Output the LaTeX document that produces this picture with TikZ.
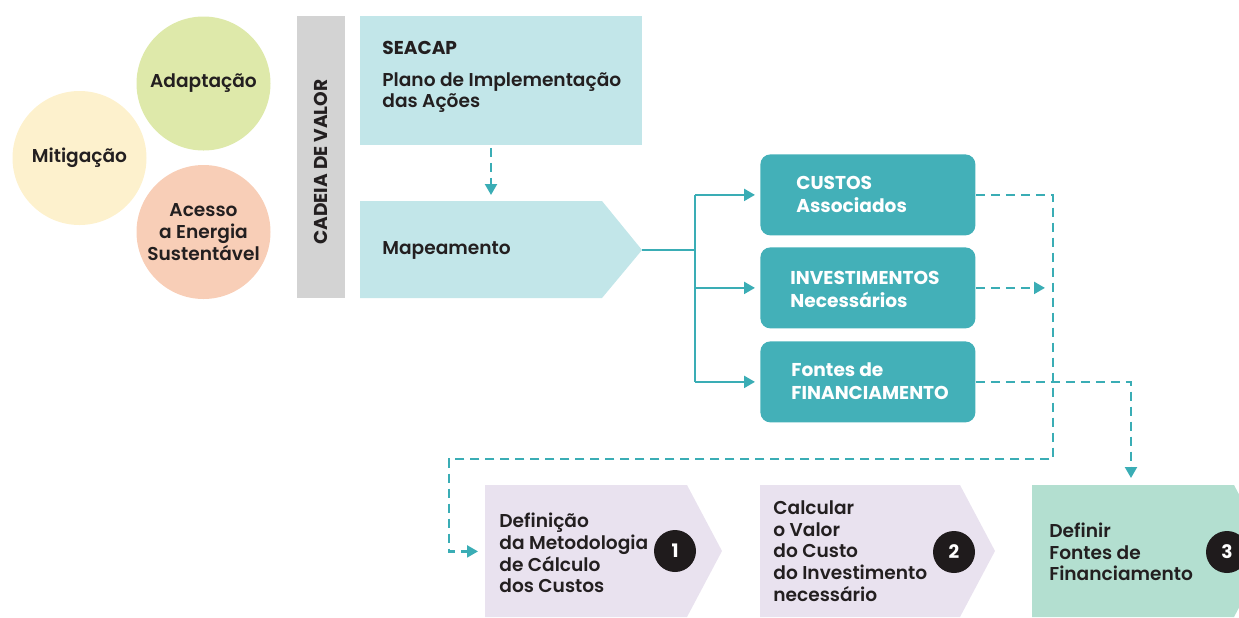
\documentclass[tikz,border=0pt]{standalone}
\usepackage{fontspec}
\setmainfont{Poppins}[UprightFont={* Medium},BoldFont={* SemiBold}]
\newfontfamily\heavy{Poppins}[UprightFont={* SemiBold},BoldFont={* Bold}]
\usetikzlibrary{arrows.meta}
\definecolor{tealD}{HTML}{43B0B8}
\definecolor{tealL}{HTML}{C2E6E9}
\definecolor{tealA}{HTML}{3AADB5}
\definecolor{grayB}{HTML}{D3D3D3}
\definecolor{cGreen}{HTML}{DEE9AA}
\definecolor{cYellow}{HTML}{FDF1CD}
\definecolor{cSalmon}{HTML}{F8CEB7}
\definecolor{lav}{HTML}{E9E2EF}
\definecolor{mint}{HTML}{B3DFD0}
\definecolor{ink}{HTML}{231F20}
\definecolor{numc}{HTML}{1F1B1C}
\tikzset{
  txt/.style={font=\fontsize{9.3}{10.8}\selectfont\heavy, text=ink, align=left, inner sep=0pt, anchor=west},
  wtxt/.style={font=\fontsize{9.3}{11.5}\selectfont\heavy\bfseries, text=white, align=left, inner sep=0pt, anchor=west},
  circ/.style={circle, minimum size=67pt, inner sep=0pt, align=center, text=ink, font=\fontsize{9.3}{10.8}\selectfont\heavy},
  tbox/.style={fill=tealD, rounded corners=5pt, minimum width=107.5pt, minimum height=40.5pt, anchor=north west, inner sep=0pt},
  anch/.style={inner sep=0pt, anchor=north west},
  tline/.style={draw=tealA, line width=1.1pt},
  dline/.style={tline, dash pattern=on 4.5pt off 3pt},
  arr/.style={-{Triangle[length=5.5pt,width=6pt]}},
  num/.style={circle, fill=numc, minimum size=21pt, inner sep=0pt, text=white, font=\fontsize{9.3}{10}\selectfont\heavy\bfseries}
}
\begin{document}
\begin{tikzpicture}[x=0.5pt,y=-0.5pt]
\useasboundingbox (0,0) rectangle (1239,617);
% circles
\node[circ, fill=cYellow] (mit) at (79.5,158) {Mitigação};
\node[circ, fill=cGreen] (ada) at (203.5,83.5) {Adaptação};
\node[circ, fill=cSalmon] (ace) at (203.5,232) {Acesso\\a Energia\\Sustentável};
% value chain bar
\node[anch, fill=grayB, minimum width=24pt, minimum height=141pt] (bar) at (297,16) {};
\node[rotate=90, text=ink, inner sep=0pt, font=\fontsize{9.3}{10}\selectfont\heavy\bfseries] (barT) at (321,162) {CADEIA DE VALOR};
% SEACAP
\node[anch, fill=tealL, minimum width=141pt, minimum height=64.5pt] (seacap) at (360,16) {};
\node[txt] (seacapT) at (382,77) {\bfseries SEACAP\\[5pt]Plano de Implementação\\das Ações};
% Mapeamento
\fill[tealL] (360,201) -- (602,201) -- (642,250) -- (602,298) -- (360,298) -- cycle;
\node[anch, minimum width=121pt, minimum height=48.5pt] (map) at (360,201) {};
\node[txt] (mapT) at (382,250) {Mapeamento};
\coordinate (maptip) at (642,250);
\coordinate (ax) at (491,0);
\draw[dline, arr, shorten >=3pt, shorten <=1pt] (seacap.south -| ax) -- (map.north -| ax);
% teal boxes
\node[tbox] (custos) at (760,154) {};
\node[tbox] (invest) at (760,247) {};
\node[tbox] (fontes) at (760,341) {};
\node[wtxt] (custosT) at (796,194) {CUSTOS\\Associados};
\node[wtxt] (investT) at (790,289) {INVESTIMENTOS\\Necessários};
\node[wtxt] (fontesT) at (791,381) {Fontes de\\FINANCIAMENTO};
% solid connectors
\coordinate (jn) at (695,250);
\draw[tline] (maptip) -- (jn);
\draw[tline] (jn |- custos.west) -- (jn |- fontes.west);
\draw[tline, arr, shorten >=2.5pt] (jn |- custos.west) -- (custos.west);
\draw[tline, arr, shorten >=2.5pt] (jn |- invest.west) -- (invest.west);
\draw[tline, arr, shorten >=2.5pt] (jn |- fontes.west) -- (fontes.west);
% bottom chevrons
\fill[lav] (485,485) -- (687,485) -- (722,551) -- (687,617) -- (485,617) -- cycle;
\fill[lav] (760,485) -- (960,485) -- (995,551) -- (960,617) -- (760,617) -- cycle;
\fill[mint] (1032,485) -- (1234,485) -- (1269,551) -- (1234,617) -- (1032,617) -- cycle;
\node[anch, minimum width=101pt, minimum height=66pt] (b1) at (485,485) {};
\node[anch, minimum width=100pt, minimum height=66pt] (b2) at (760,485) {};
\node[anch, minimum width=101pt, minimum height=66pt] (b3) at (1032,485) {};
\node[txt] (b1T) at (499,553) {Definição\\da Metodologia\\de Cálculo\\dos Custos};
\node[txt] (b2T) at (773,551) {Calcular\\o Valor\\do Custo\\do Investimento\\necessário};
\node[txt] (b3T) at (1049,552) {Definir\\Fontes de\\Financiamento};
\node[num] (n1) at (675,551) {1};
\node[num] (n2) at (954,552) {2};
\node[num] (n3) at (1227,552) {3};
% dashed connectors
\coordinate (vr) at (1053,459);
\coordinate (vl) at (449,459);
\coordinate (fx) at (1131,0);
\draw[dline, arr, shorten >=3.5pt] (custos.east) -| (vr) -- (vl) |- (b1.west);
\draw[dline, arr, shorten >=4pt] (invest.east) -- (invest.east -| vr);
\draw[dline, arr, shorten >=3.5pt] (fontes.east) -| (b3.north -| fx);
\end{tikzpicture}
\end{document}
